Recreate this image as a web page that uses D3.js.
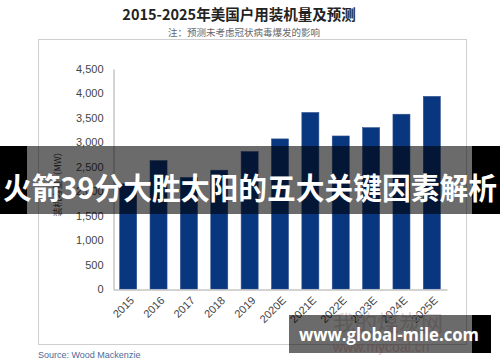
<!DOCTYPE html>
<html>
<head>
<meta charset="utf-8">
<script src="https://cdn.jsdelivr.net/npm/d3@7"></script>
<style>
  body { margin: 0; background: #fff; }
  svg { display: block; }
</style>
</head>
<body>
<div id="chart"></div>
<script>
// data (2015, 2017 are under the banner, estimated)
var years = ['2015', '2016', '2017', '2018', '2019', '2020E', '2021E', '2022E', '2023E', '2024E', '2025E']
var installs = [2150, 2625, 2280, 2430, 2810, 3070, 3610, 3130, 3300, 3575, 3940]
var yTicks = [0, 500, 1000, 1500, 2000, 2500, 3000, 3500, 4000, 4500]

var W = 500, H = 362

var svg = d3.select('#chart').append('svg')
  .attr('width', W)
  .attr('height', H)

var cjk = '"Noto Sans CJK SC", "Noto Sans", sans-serif'
var latin = '"Liberation Sans", Arial, sans-serif'

// titles
svg.append('text')
  .attr('x', 239).attr('y', 20)
  .attr('text-anchor', 'middle')
  .style('font-family', cjk)
  .style('font-weight', 'bold')
  .style('font-size', '14.5px')
  .style('fill', '#222')
  .text('2015-2025年美国户用装机量及预测')

svg.append('text')
  .attr('x', 244).attr('y', 36)
  .attr('text-anchor', 'middle')
  .style('font-family', cjk)
  .style('font-size', '9.5px')
  .style('fill', '#666')
  .text('注：预测未考虑冠状病毒爆发的影响')

// frame
svg.append('rect')
  .attr('x', 38.5).attr('y', 39.5)
  .attr('width', 428).attr('height', 305)
  .attr('fill', 'none')
  .attr('stroke', '#cfcfcf')
  .attr('stroke-width', 1)

var x = d3.scaleBand()
  .domain(years)
  .range([113, 447])
  .paddingInner(0.44)
  .paddingOuter(0.22)

var y = d3.scaleLinear()
  .domain([0, 4500])
  .range([289, 69])

// bars
svg.append('g')
  .selectAll('rect')
  .data(years)
  .enter().append('rect')
    .attr('x', function(d){ return x(d) })
    .attr('y', function(d, i){ return y(installs[i]) })
    .attr('width', x.bandwidth())
    .attr('height', function(d, i){ return y(0) - y(installs[i]) })
    .attr('fill', '#08367f')
    .attr('stroke', '#2d5190')
    .attr('stroke-width', 0.6)

// y axis
var yAxis = svg.append('g')
  .attr('transform', 'translate(113.5,0)')
  .call(d3.axisLeft(y).tickValues(yTicks).tickSize(0).tickPadding(10).tickFormat(d3.format(',')))
yAxis.select('.domain').attr('stroke', '#a8a8a8')
yAxis.selectAll('text')
  .style('font-family', latin)
  .style('font-size', '11px')
  .style('fill', '#444')

// x axis
var xAxis = svg.append('g')
  .attr('transform', 'translate(0,289.5)')
  .call(d3.axisBottom(x).tickSize(0).tickPadding(6))
xAxis.select('.domain').attr('stroke', '#a8a8a8')
xAxis.selectAll('text')
  .style('font-family', latin)
  .style('font-size', '11px')
  .style('fill', '#444')
  .attr('text-anchor', 'end')
  .attr('dy', '0.7em')
  .attr('transform', 'translate(-3,2) rotate(-45)')

// y title
svg.append('text')
  .attr('transform', 'translate(61,182) rotate(-90)')
  .attr('text-anchor', 'middle')
  .style('font-family', cjk)
  .style('font-size', '9px')
  .style('fill', '#444')
  .text('装机容量（MW）')

svg.append('text')
  .attr('x', 38).attr('y', 358)
  .style('font-family', latin)
  .style('font-size', '9px')
  .style('fill', '#4d6b99')
  .text('Source: Wood Mackenzie')

// faint mycoal watermark
svg.append('text')
  .attr('x', 333).attr('y', 331)
  .style('font-family', cjk)
  .style('font-size', '22px')
  .style('fill', '#e2d6d6')
  .text('我的煤炭网')
svg.append('text')
  .attr('x', 333).attr('y', 352)
  .style('font-family', latin)
  .style('font-size', '14px')
  .style('fill', '#efc9c9')
  .text('www.mycoal.cn')

// banner over the chart
svg.append('rect').attr('x', 0).attr('y', 146).attr('width', 27).attr('height', 68).attr('fill', '#000')
svg.append('rect').attr('x', 472).attr('y', 146).attr('width', 28).attr('height', 68).attr('fill', '#000')
svg.append('rect').attr('x', 27).attr('y', 146).attr('width', 445).attr('height', 68).attr('fill', 'rgba(0,0,0,0.58)')
svg.append('text')
  .attr('x', 250).attr('y', 199)
  .attr('text-anchor', 'middle')
  .attr('textLength', 494)
  .attr('lengthAdjust', 'spacingAndGlyphs')
  .style('font-family', cjk)
  .style('font-weight', 'bold')
  .style('font-size', '30px')
  .style('fill', '#fff')
  .text('火箭39分大胜太阳的五大关键因素解析')

// site watermark box
svg.append('rect').attr('x', 289).attr('y', 315).attr('width', 183).attr('height', 38).attr('fill', 'rgba(0,0,0,0.58)')
svg.append('rect').attr('x', 472).attr('y', 315).attr('width', 19).attr('height', 38).attr('fill', '#000')
svg.append('text')
  .attr('x', 299).attr('y', 341)
  .attr('textLength', 180)
  .attr('lengthAdjust', 'spacingAndGlyphs')
  .style('font-family', '"Open Sans", "DejaVu Sans", sans-serif')
  .style('font-weight', 'bold')
  .style('font-size', '17px')
  .style('fill', '#fff')
  .text('www.global-mile.com')
</script>
</body>
</html>
